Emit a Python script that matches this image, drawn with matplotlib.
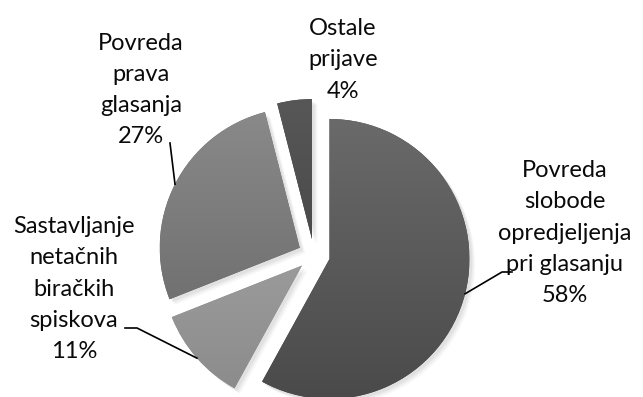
import math

import matplotlib
matplotlib.use("Agg")
import matplotlib.pyplot as plt
import numpy as np
from matplotlib import patheffects
from matplotlib.colors import LinearSegmentedColormap

# Share of complaints by type (percent), clockwise from 12 o'clock
categories = [
    "Povreda\nslobode\nopredjeljenja\npri glasanju",
    "Sastavljanje\nnetačnih\nbiračkih\nspiskova",
    "Povreda\nprava\nglasanja",
    "Ostale\nprijave",
]
shares = [58, 11, 27, 4]

# vertical gradient per slice: (top, bottom)
shades = [("#6a6a6a", "#4a4a4a"), ("#ababab", "#8a8a8a"),
          ("#8a8a8a", "#656565"), ("#575757", "#3e3e3e")]

W, H = 643, 397
CENTER = (314, H - 255)
RADIUS = 140
EXPLODE = 16

# label anchor (centre of text block) and leader elbow, in pixels from top-left
label_pos = [(565, 233), (74, 289), (141, 90), (343, 60)]
elbows = [[(502, 272), (512, 272)], [(137, 328), (125, 328)], [(170, 143)], None]

plt.rcParams["font.family"] = ["Lato", "DejaVu Sans"]

fig = plt.figure(figsize=(W / 100, H / 100), dpi=100)
ax = fig.add_axes([0, 0, 1, 1])

shadow = [patheffects.SimplePatchShadow(offset=(o, -o), shadow_rgbFace="0.5", alpha=a)
          for o, a in [(4, 0.06), (3, 0.08), (2, 0.10)]] + [patheffects.Normal()]

wedges, _ = ax.pie(shares, center=CENTER, radius=RADIUS, startangle=90,
                   counterclock=False, explode=[EXPLODE] * len(shares),
                   colors=[s[1] for s in shades], frame=True,
                   wedgeprops=dict(linewidth=0))
ax.set_xlim(0, W)
ax.set_ylim(0, H)
ax.set_aspect("equal")
ax.axis("off")

for w, (top, bot) in zip(wedges, shades):
    w.set_path_effects(shadow)
    cx, cy = w.center
    cmap = LinearSegmentedColormap.from_list("g", [bot, top])
    grad = np.linspace(0, 1, 256).reshape(-1, 1)
    im = ax.imshow(grad, cmap=cmap, origin="lower", aspect="auto",
                   extent=(cx - RADIUS, cx + RADIUS, cy - RADIUS, cy + RADIUS),
                   zorder=w.get_zorder() + 0.1)
    im.set_clip_path(w)

for w, share, name, (lx, ly), elbow in zip(wedges, shares, categories, label_pos, elbows):
    ax.text(lx, H - ly, f"{name}\n{share}%", ha="center", va="center",
            fontsize=17, linespacing=1.6, color="#0a0a0a", zorder=5)
    if elbow is None:
        continue
    mid = math.radians((w.theta1 + w.theta2) / 2)
    cx, cy = w.center
    xs = [cx + RADIUS * math.cos(mid)] + [p[0] for p in elbow]
    ys = [cy + RADIUS * math.sin(mid)] + [H - p[1] for p in elbow]
    ax.plot(xs, ys, color="black", linewidth=1.2, zorder=6)

fig.savefig("out.png", dpi=100, facecolor="white")
